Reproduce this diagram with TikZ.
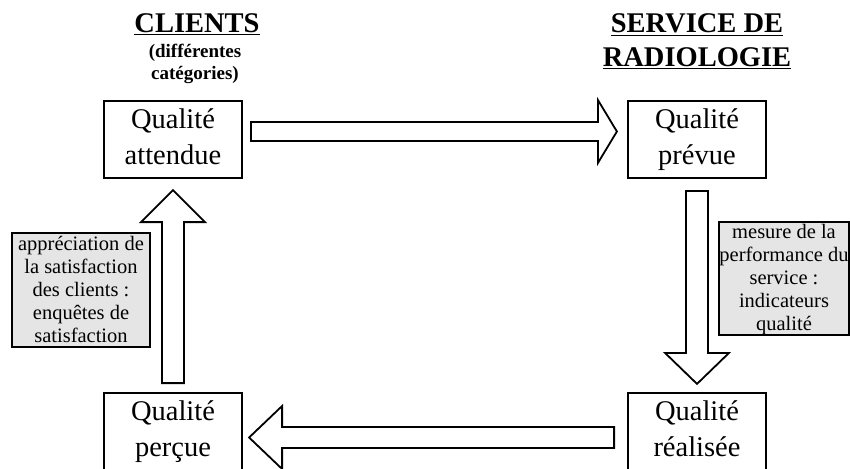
\documentclass[tikz,border=0pt]{standalone}
\usepackage{fontspec}
\setmainfont{Liberation Serif}
\usetikzlibrary{calc}

\begin{document}
\begin{tikzpicture}[x=1pt,y=-1pt,
        quality/.style={draw,line width=1.8pt,minimum width=138pt,minimum height=77pt,inner sep=0pt,align=center,font=\fontsize{28.5}{36}\selectfont},
        measure/.style={draw,line width=1.8pt,fill=gray!20,inner sep=0pt},
        note/.style={inner sep=0pt,align=center,font=\fontsize{20.5}{22.8}\selectfont},
        title/.style={anchor=base,inner sep=0pt,font=\bfseries\fontsize{28.5}{34}\selectfont},
        subtitle/.style={anchor=base,inner sep=0pt,font=\bfseries\fontsize{19}{22}\selectfont},
        barrow/.style={draw,line width=1.8pt,fill=white,line join=miter}]
        \path[use as bounding box,clip] (0,0) rectangle (850,468);
        % Titles
        \node[title] (clients) at (197,33) {\underline{CLIENTS}};
        \node[subtitle] (cat1) at (195,58) {(différentes};
        \node[subtitle] (cat2) at (195,80) {catégories)};
        \node[title] (service) at (697,33) {\underline{SERVICE DE}};
        \node[title] (radio) at (697,67) {\underline{RADIOLOGIE}};
        % Quality boxes
        \node[quality] (att) at (173,139.5) {\strut Qualité\\\strut attendue};
        \node[quality] (prev) at (697,139.5) {\strut Qualité\\\strut prévue};
        \node[quality] (real) at (697,431.5) {\strut Qualité\\\strut réalisée};
        \node[quality] (perc) at (173,431.5) {\strut Qualité\\\strut perçue};
        % Measures
        \node[measure,minimum width=138pt,minimum height=114pt] (satisf) at (81,290) {};
        \node[note] (satisftxt) at ($(satisf.center)+(0,2)$)
            {\strut appréciation de\\\strut la satisfaction\\\strut des clients :\\\strut enquêtes de\\\strut satisfaction};
        \node[measure,minimum width=130pt,minimum height=113pt] (perf) at (784,278.5) {};
        \node[note] (perftxt) at ($(perf.center)+(0,1.5)$)
            {\strut mesure de la\\\strut performance du\\\strut service :\\\strut indicateurs\\\strut qualité};
        % Block arrows
        \draw[barrow] ($(att.east)+(8,-17.5)$) -- ++(347,0) -- ++(0,-22) -- ++(19,31.5)
            -- ++(-19,31.5) -- ++(0,-22) -- ++(-347,0) -- cycle;
        \draw[barrow] ($(prev.south)+(-11,12)$) -- ++(0,162) -- ++(-21,0) -- ++(32,31)
            -- ++(32,-31) -- ++(-21,0) -- ++(0,-162) -- cycle;
        \draw[barrow] ($(real.west)+(-13,-4.5)$) -- ++(-332,0) -- ++(0,-21) -- ++(-33,31.5)
            -- ++(33,31.5) -- ++(0,-21) -- ++(332,0) -- cycle;
        \draw[barrow] ($(perc.north)+(-11,-9)$) -- ++(0,-161) -- ++(-21,0) -- ++(32,-32)
            -- ++(32,32) -- ++(-21,0) -- ++(0,161) -- cycle;
\end{tikzpicture}
\end{document}
